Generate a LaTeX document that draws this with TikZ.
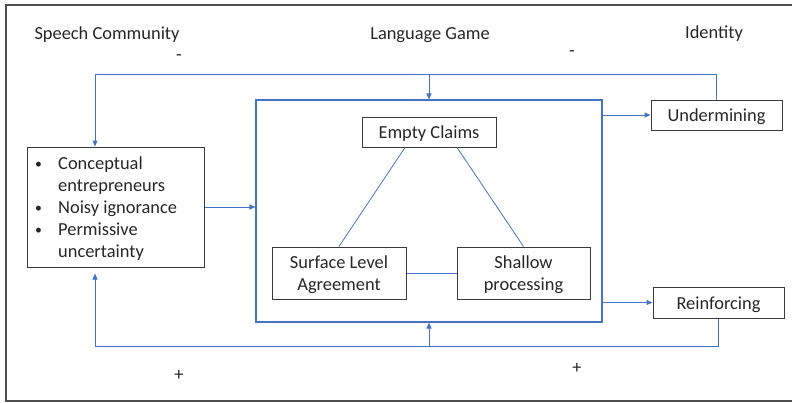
\documentclass[tikz,border=0pt]{standalone}
\usepackage{fontspec}
\setmainfont{Carlito}
\usetikzlibrary{arrows.meta,calc}
\definecolor{lnblue}{HTML}{4472C4}
\definecolor{txtgray}{HTML}{262626}
\definecolor{boxgray}{HTML}{3A3A3A}
\newcommand{\smbul}{\raisebox{1pt}{\scalebox{0.75}{\textbullet}}}
\begin{document}
\begin{tikzpicture}[x=1pt,y=-1pt,
  every node/.style={font=\fontsize{18.4}{22}\selectfont, text=txtgray},
  box/.style={draw=boxgray, line width=1pt, rectangle, inner sep=0pt},
  boxtext/.style={inner sep=0pt, align=center, yshift=-2pt},
  link/.style={draw=lnblue, line width=1pt},
  tri/.style={draw=lnblue, line width=0.8pt},
  arr/.style={link, -{Triangle[length=6pt,width=5pt]}},
  lbl/.style={inner sep=0pt}]
\useasboundingbox (0,0) rectangle (792,402);
% outer frame (no right side)
\draw[boxgray!90, line width=1.3pt] (792,5) -- (6,5) -- (6,401) -- (792,401);

% headings
\node[lbl] (hSC) at (107,35) {Speech Community};
\node[lbl] (hLG) at (430,35) {Language Game};
\node[lbl] (hID) at (714,34) {Identity};
\node[lbl] (m1) at (179,58) {-};
\node[lbl] (m2) at (572,54) {-};
\node[lbl] (p1) at (179,375) {+};
\node[lbl] (p2) at (577,368) {+};

% boxes
\node[box, minimum width=177pt, minimum height=120pt] (LB) at (115.5,207) {};
\node[lbl, anchor=west] (LBtxt) at (35,209.5) {\begin{tabular}{@{}p{23pt}@{}l@{}}\smbul & Conceptual\\ & entrepreneurs\\ \smbul & Noisy ignorance\\ \smbul & Permissive\\ & uncertainty\end{tabular}};
\node[draw=lnblue, line width=1.1pt, rectangle, inner sep=0pt, minimum width=346pt, minimum height=222pt] (GAME) at (429,211) {};
\node[box, minimum width=134pt, minimum height=30pt, label={[boxtext]center:Empty Claims}] (EC) at (429,132) {};
\node[box, minimum width=134pt, minimum height=52pt, label={[boxtext]center:{Surface Level\\Agreement}}] (SLA) at (339,273) {};
\node[box, minimum width=133pt, minimum height=52pt, label={[boxtext]center:{Shallow\\processing}}] (SP) at (523.5,273) {};
\node[box, minimum width=131pt, minimum height=30pt, label={[boxtext]center:Undermining}] (UND) at (716.5,115) {};
\node[box, minimum width=131pt, minimum height=31pt, label={[boxtext]center:Reinforcing}] (REI) at (718.5,302.5) {};

% loop coordinates
\coordinate (tl) at (95,74);
\coordinate (bl) at (95,346);

% triangle inside game
\draw[tri] ($(EC.south)+(-24,0)$) -- (SLA.north);
\draw[tri] ($(EC.south)+(28,0)$) -- (SP.north);
\draw[tri] (SLA.east) -- (SP.west);

% feedback loops
\draw[link] (UND.north) |- (tl);
\draw[arr] (tl) -- (LB.north -| tl);
\draw[arr] (GAME.north |- tl) -- (GAME.north);
\draw[link] (REI.south) |- (bl);
\draw[arr, shorten >=6pt] (bl) -- (LB.south -| bl);
\draw[arr] (GAME.south |- bl) -- (GAME.south);

% forward arrows
\draw[arr] (LB.east) -- (LB.east -| GAME.west);
\draw[arr] (UND.west -| GAME.east) -- (UND.west);
\draw[arr] (REI.west -| GAME.east) -- (REI.west);
\end{tikzpicture}
\end{document}
